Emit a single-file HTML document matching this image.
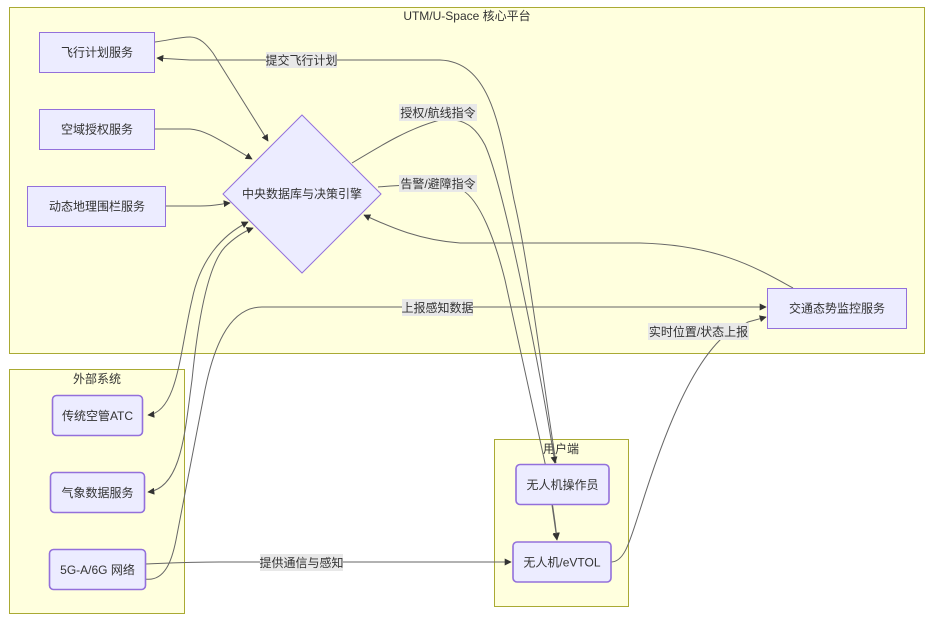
<!DOCTYPE html>
<html><head><meta charset="utf-8"><style>
html,body{margin:0;padding:0;background:#fff;}
svg{display:block;}
text{font-family:"Liberation Sans","Noto Sans CJK SC",sans-serif;font-size:12px;fill:#333;}
</style></head><body>
<svg width="933" height="628" viewBox="0 0 933 628" xmlns="http://www.w3.org/2000/svg">
<defs>
<marker id="ah" viewBox="0 0 10 10" refX="9" refY="5" markerWidth="7" markerHeight="7" markerUnits="userSpaceOnUse" orient="auto-start-reverse">
<path d="M0,0 L10,5 L0,10 z" fill="#333"/>
</marker>
</defs>
<!-- clusters -->
<rect x="9.5" y="7.5" width="915" height="346" fill="#ffffde" stroke="#aaaa33" stroke-width="1"/>
<text x="467" y="20" text-anchor="middle">UTM/U-Space 核心平台</text>
<rect x="9.5" y="369.5" width="175" height="244" fill="#ffffde" stroke="#aaaa33" stroke-width="1"/>
<text x="97" y="383" text-anchor="middle">外部系统</text>
<rect x="494.5" y="439.5" width="134" height="167" fill="#ffffde" stroke="#aaaa33" stroke-width="1"/>
<text x="561" y="453" text-anchor="middle">用户端</text>

<!-- edges -->
<g fill="none" stroke="#666" stroke-width="1">
<path d="M155,42 C170,40 180,37 190,37 C200,37 207,45 213,53 L268,141" marker-end="url(#ah)"/>
<path d="M155,129 L190,129 C205,130 218,139 252,159" marker-end="url(#ah)"/>
<path d="M166,206 L200,206 C215,206 220,204 230,203" marker-end="url(#ah)"/>
<path d="M556,463 C540,360 528,260 514,200 C500,130 492,62 440,60 L190,60 L157,58" marker-end="url(#ah)"/>
<path d="M352,163 C385,143 410,128 440,120 C465,117 476,128 485,145 C505,190 540,370 555,463" marker-end="url(#ah)"/>
<path d="M378,187 C400,185 440,183 462,190 C480,200 495,240 505,280 L545,463 C550,490 554,510 557,539" marker-end="url(#ah)"/>
<path d="M793,288 C760,270 720,245 640,243 L460,243 C420,240 392,228 364,215" marker-end="url(#ah)"/>
<path d="M145,579 C165,582 172,560 176,540 L203,400 C212,350 228,307 262,307 L766,307" marker-end="url(#ah)"/>
<path d="M148,415 C178,412 180,350 192,300 C200,260 222,235 248,222" marker-start="url(#ah)" marker-end="url(#ah)"/>
<path d="M148,492 C182,488 185,430 192,380 C198,320 208,265 225,247 C234,238 243,232 253,228" marker-start="url(#ah)" marker-end="url(#ah)"/>
<path d="M145,564 C170,563 190,562 220,562 L511,562" marker-end="url(#ah)"/>
<path d="M611,562 C625,562 630,540 640,510 C665,430 690,370 720,340 L748,322 L766,317" marker-end="url(#ah)"/>
<path d="M552,505 L557,540" marker-end="url(#ah)"/>
</g>

<!-- edge labels -->
<rect x="266" y="52" width="71" height="16" fill="#e8e8e8"/>
<text x="301.5" y="64.5" text-anchor="middle">提交飞行计划</text>
<rect x="399" y="104" width="78" height="17" fill="#e8e8e8"/>
<text x="438" y="117" text-anchor="middle">授权/航线指令</text>
<rect x="399" y="175" width="78" height="17" fill="#e8e8e8"/>
<text x="438" y="188" text-anchor="middle">告警/避障指令</text>
<rect x="402" y="299" width="71" height="17" fill="#e8e8e8"/>
<text x="437.5" y="312" text-anchor="middle">上报感知数据</text>
<rect x="648" y="323" width="101" height="17" fill="#e8e8e8"/>
<text x="698.5" y="336" text-anchor="middle">实时位置/状态上报</text>
<rect x="260" y="554" width="83" height="17" fill="#e8e8e8"/>
<text x="301.5" y="567" text-anchor="middle">提供通信与感知</text>

<!-- UTM nodes -->
<g fill="#ececff" stroke="#9370db" stroke-width="1">
<rect x="39.5" y="32.5" width="115" height="40"/>
<rect x="39.5" y="109.5" width="115" height="40"/>
<rect x="27.5" y="186.5" width="138" height="40"/>
<polygon points="302,115 381,194 302,273 223,194"/>
<rect x="767.5" y="288.5" width="139" height="40"/>
</g>
<g fill="#ececff" stroke="#9370db" stroke-width="1.6">
<rect x="52.5" y="395.5" width="90" height="40" rx="4"/>
<rect x="50.5" y="472.5" width="94" height="40" rx="4"/>
<rect x="49.5" y="549.5" width="96" height="40" rx="4"/>
<rect x="516" y="464.5" width="93" height="40" rx="4"/>
<rect x="513" y="542" width="98" height="40" rx="4"/>
</g>
<text x="97" y="56.5" text-anchor="middle">飞行计划服务</text>
<text x="97" y="133.5" text-anchor="middle">空域授权服务</text>
<text x="97" y="210.5" text-anchor="middle">动态地理围栏服务</text>
<text x="302" y="198" text-anchor="middle">中央数据库与决策引擎</text>
<text x="837" y="312.5" text-anchor="middle">交通态势监控服务</text>
<text x="97.5" y="420" text-anchor="middle">传统空管ATC</text>
<text x="97.5" y="497" text-anchor="middle">气象数据服务</text>
<text x="97.5" y="574" text-anchor="middle">5G-A/6G 网络</text>
<text x="562.5" y="489" text-anchor="middle">无人机操作员</text>
<text x="562" y="566.5" text-anchor="middle">无人机/eVTOL</text>
</svg>
</body></html>
